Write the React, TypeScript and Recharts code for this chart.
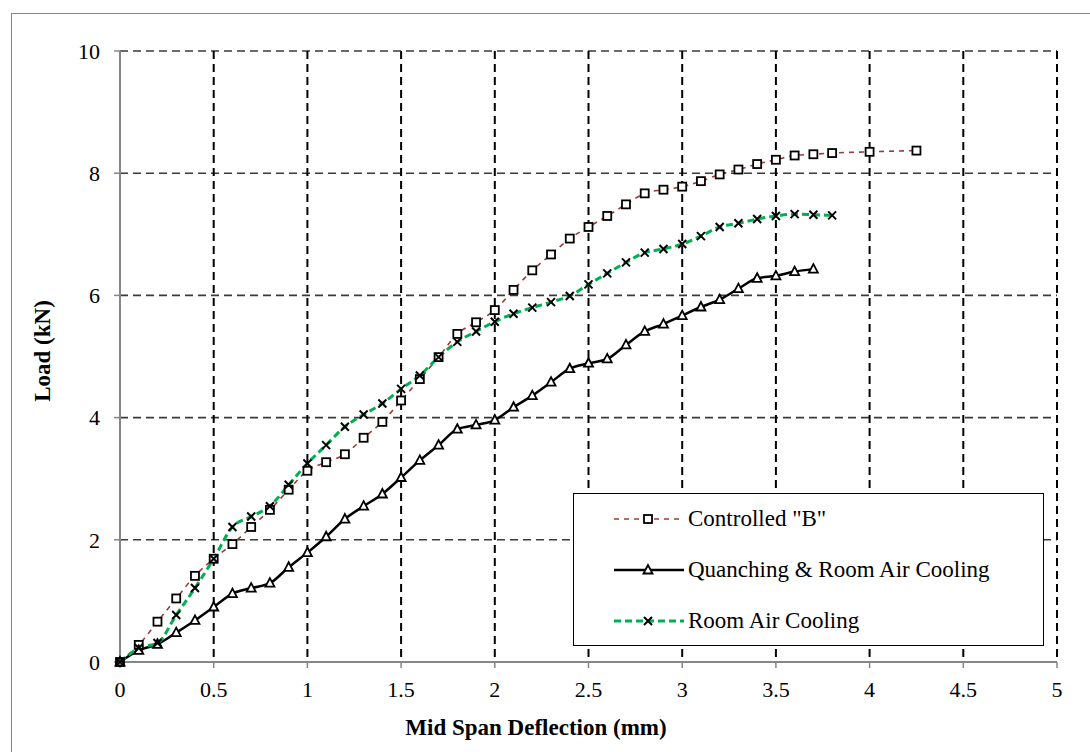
import React from "react";
import { LineChart, Line, XAxis, YAxis, CartesianGrid, Legend } from "recharts";

// mid span deflection (mm), readings every 0.1 mm
const deflection = [
  0, 0.1, 0.2, 0.3, 0.4, 0.5, 0.6, 0.7, 0.8, 0.9, 1.0, 1.1, 1.2, 1.3, 1.4, 1.5, 1.6, 1.7, 1.8, 1.9,
  2.0, 2.1, 2.2, 2.3, 2.4, 2.5, 2.6, 2.7, 2.8, 2.9, 3.0, 3.1, 3.2, 3.3, 3.4, 3.5, 3.6, 3.7, 3.8,
];
const controlledTail = [4.0, 4.25];

const controlledLoad = [
  0, 0.28, 0.66, 1.04, 1.41, 1.69, 1.93, 2.21, 2.49, 2.82, 3.13, 3.27, 3.4, 3.67, 3.93, 4.28, 4.63,
  4.99, 5.37, 5.56, 5.76, 6.09, 6.41, 6.67, 6.93, 7.12, 7.3, 7.49, 7.67, 7.73, 7.78, 7.87, 7.98, 8.06,
  8.15, 8.22, 8.29, 8.31, 8.33, 8.35, 8.37,
];
const quenchLoad = [
  0, 0.19, 0.29, 0.48, 0.68, 0.9, 1.12, 1.21, 1.29, 1.55, 1.79, 2.05, 2.34, 2.55, 2.75, 3.02, 3.3,
  3.55, 3.81, 3.88, 3.96, 4.17, 4.36, 4.58, 4.8, 4.89, 4.96, 5.19, 5.41, 5.53, 5.67, 5.81, 5.93, 6.11,
  6.28, 6.32, 6.39, 6.43,
];
const roomLoad = [
  0, 0.23, 0.31, 0.77, 1.21, 1.69, 2.21, 2.38, 2.55, 2.9, 3.25, 3.55, 3.85, 4.05, 4.23, 4.47, 4.69,
  4.99, 5.24, 5.41, 5.57, 5.7, 5.8, 5.89, 5.99, 6.18, 6.36, 6.54, 6.7, 6.76, 6.84, 6.97, 7.12, 7.18,
  7.25, 7.3, 7.33, 7.32, 7.31,
];

const xTicks = [0, 0.5, 1, 1.5, 2, 2.5, 3, 3.5, 4, 4.5, 5];
const yTicks = [0, 2, 4, 6, 8, 10];

const seriesNames = ['Controlled "B"', "Quanching & Room Air Cooling", "Room Air Cooling"];

const FONT = "Liberation Serif, Times New Roman, serif";
const AXIS_GREY = "#868686";

const toPoints = (xs: number[], ys: number[]) => ys.map((y, i) => ({ x: xs[i], y }));

const controlledData = toPoints([...deflection, ...controlledTail], controlledLoad);
const quenchData = toPoints(deflection, quenchLoad);
const roomData = toPoints(deflection, roomLoad);

const Square = (cx: number, cy: number, key?: any) => (
  <rect key={key} x={cx - 4} y={cy - 4} width={8} height={8} fill="#fff" stroke="#000" strokeWidth={1.8} />
);
const Triangle = (cx: number, cy: number, key?: any) => (
  <polygon
    key={key}
    points={`${cx},${cy - 5} ${cx - 4.5},${cy + 3.5} ${cx + 4.5},${cy + 3.5}`}
    fill="#fff"
    stroke="#000"
    strokeWidth={1.8}
  />
);
const Cross = (cx: number, cy: number, key?: any) => (
  <path
    key={key}
    d={`M${cx - 4},${cy - 4}L${cx + 4},${cy + 4}M${cx + 4},${cy - 4}L${cx - 4},${cy + 4}`}
    stroke="#000"
    strokeWidth={2}
    fill="none"
  />
);

const styles = [
  { color: "#9e3b38", width: 1.6, dash: "5 5", marker: Square },
  { color: "#000000", width: 2.5, dash: undefined, marker: Triangle },
  { color: "#00b050", width: 3, dash: "7 4", marker: Cross },
];

const renderLegend = () => (
  <div
    style={{
      width: 471,
      height: 153,
      border: "1.5px solid #000",
      background: "#fff",
      boxSizing: "border-box",
      position: "relative",
      fontFamily: FONT,
      fontSize: 23,
      color: "#000",
    }}
  >
    {seriesNames.map((name, i) => {
      const s = styles[i];
      const cy = 25 + i * 51;
      return (
        <React.Fragment key={name}>
          <svg width={80} height={20} style={{ position: "absolute", left: 38, top: cy - 10 }}>
            <line x1={2} x2={72} y1={10} y2={10} stroke={s.color} strokeWidth={s.width} strokeDasharray={s.dash} />
            {s.marker(36, 10)}
          </svg>
          <span
            style={{
              position: "absolute",
              left: 114,
              top: cy - 14,
              lineHeight: "28px",
              whiteSpace: "nowrap",
              fontFamily: FONT,
            }}
          >
            {name}
          </span>
        </React.Fragment>
      );
    })}
  </div>
);

export default function App() {
  const tickStyle = { fill: "#000", fontSize: 22, fontFamily: FONT };
  return (
    <div style={{ position: "absolute", left: 0, top: 0, width: 1090, height: 752, background: "#fff", overflow: "hidden" }}>
      <div
        style={{
          position: "absolute",
          left: 11,
          top: 13,
          width: 1100,
          height: 760,
          borderLeft: `1.5px solid ${AXIS_GREY}`,
          borderTop: `1.5px solid ${AXIS_GREY}`,
        }}
      />
      <LineChart width={1090} height={752} margin={{ top: 51, right: 33, left: 40, bottom: 30 }}>
        <CartesianGrid horizontal vertical={false} stroke="#3a3a3a" strokeWidth={1.6} strokeDasharray="8 5" />
        <CartesianGrid horizontal={false} vertical stroke="#000" strokeWidth={2} strokeDasharray="8 5" />
        <XAxis
          type="number"
          dataKey="x"
          domain={[0, 5]}
          ticks={xTicks}
          height={60}
          tick={tickStyle}
          tickSize={6}
          tickMargin={13}
          axisLine={{ stroke: AXIS_GREY, strokeWidth: 2 }}
          tickLine={{ stroke: AXIS_GREY, strokeWidth: 1.5 }}
          label={{
            content: () => (
              <text x={536} y={735} textAnchor="middle" fontFamily={FONT} fontSize={23} fontWeight="bold" fill="#000">
                Mid Span Deflection (mm)
              </text>
            ),
          }}
        />
        <YAxis
          type="number"
          domain={[0, 10]}
          ticks={yTicks}
          width={80}
          tick={tickStyle}
          tickSize={6}
          tickMargin={14}
          axisLine={{ stroke: AXIS_GREY, strokeWidth: 2 }}
          tickLine={{ stroke: AXIS_GREY, strokeWidth: 1.5 }}
          label={{
            content: () => (
              <text
                x={0}
                y={0}
                transform="translate(50 351) rotate(-90)"
                textAnchor="middle"
                fontFamily={FONT}
                fontSize={23}
                fontWeight="bold"
                fill="#000"
              >
                Load (kN)
              </text>
            ),
          }}
        />
        <Legend
          layout="vertical"
          align="center"
          verticalAlign="middle"
          content={renderLegend}
          wrapperStyle={{ position: "absolute", left: 573, top: 493, width: 471, height: 153 }}
        />
        {[controlledData, quenchData, roomData].map((data, i) => {
          const s = styles[i];
          return (
            <Line
              key={seriesNames[i]}
              name={seriesNames[i]}
              data={data}
              dataKey="y"
              type="monotone"
              stroke={s.color}
              strokeWidth={s.width}
              strokeDasharray={s.dash}
              dot={(p: any) => s.marker(p.cx, p.cy, p.key ?? `${i}-${p.index}`)}
              activeDot={false}
              isAnimationActive={false}
            />
          );
        })}
      </LineChart>
    </div>
  );
}
